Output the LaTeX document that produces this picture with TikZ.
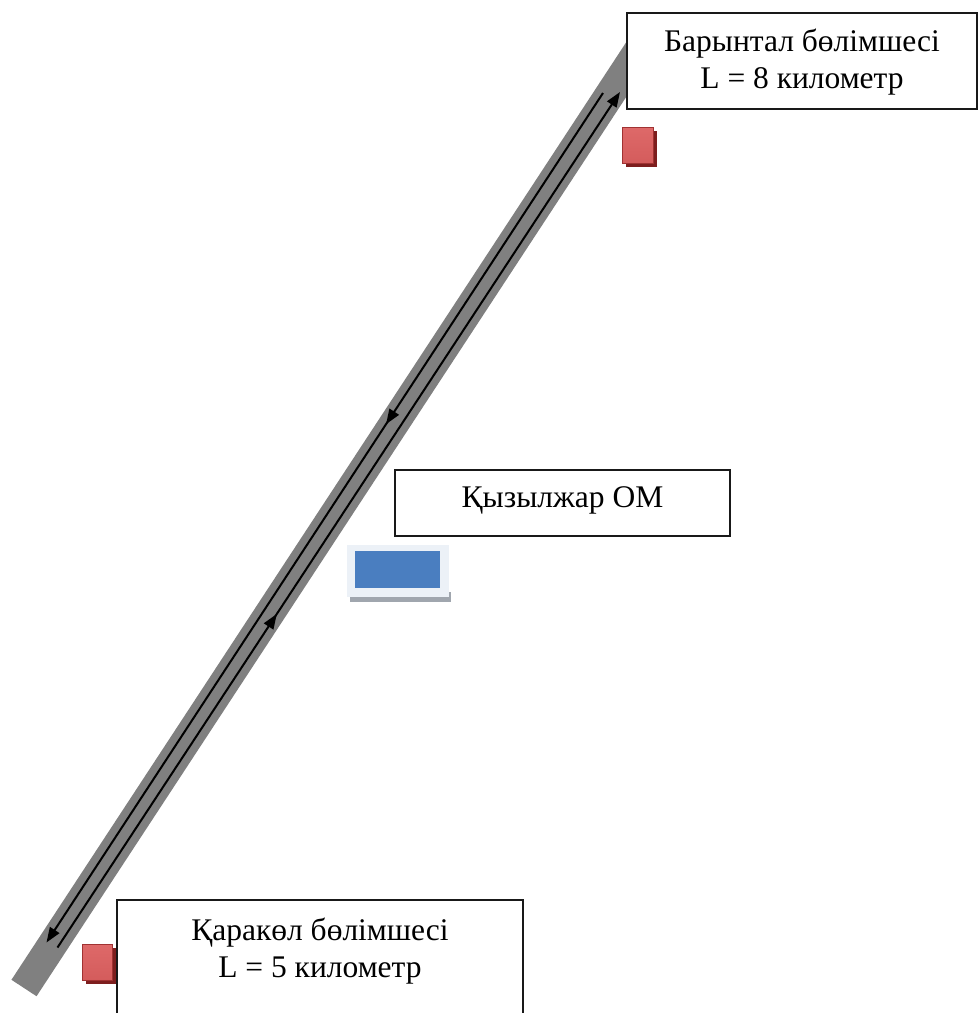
\documentclass[tikz,border=0pt]{standalone}
\usepackage{fontspec}
\setmainfont{Liberation Serif}
\usetikzlibrary{arrows.meta,decorations.markings}
\definecolor{roadgray}{RGB}{128,128,128}
\definecolor{sqtop}{RGB}{222,105,105}
\definecolor{sqmid}{RGB}{192,58,58}
\definecolor{sqbot}{RGB}{212,92,92}
\definecolor{sqedge}{RGB}{160,50,50}
\definecolor{sqshadow}{RGB}{125,30,30}
\definecolor{bluefill}{RGB}{74,126,192}
\definecolor{blueframe}{RGB}{236,241,247}
\definecolor{blueshadow}{RGB}{160,166,174}
\tikzset{
  labelbox/.style={draw=black!90, line width=1.4pt, fill=white, align=center, inner sep=0pt},
  labeltext/.style={align=center, inner sep=0pt, font=\fontsize{31.5}{37}\selectfont},
  roadband/.style={draw=roadgray, line width=30pt},
  roadline/.style={line width=2pt, -{Triangle[length=15pt,width=11pt]},
    postaction={decorate},
    decoration={markings, mark=at position 0.39 with {\arrow{Triangle[length=15pt,width=11pt]}}}},
  redsq/.style={shading=axis, top color=sqtop, middle color=sqmid, bottom color=sqbot, draw=sqedge, line width=0.7pt},
  redshadow/.style={fill=sqshadow},
}
\begin{document}
\begin{tikzpicture}[x=1pt,y=-1pt]
\useasboundingbox (0,0) rectangle (979,1013);
\fill[white] (0,0) rectangle (979,1013);

% road
\coordinate (roadS) at (24,988);
\coordinate (roadE) at (643,44);
\draw[roadband] (roadS) -- (roadE);

% lines along the road
\coordinate (L1) at (603,93);
\coordinate (L2) at (46.5,942.5);
\coordinate (R1) at (57.5,947.5);
\coordinate (R2) at (620,92);
\draw[roadline] (L1) -- (L2);
\draw[roadline] (R1) -- (R2);

% top box
\node[labelbox, minimum width=350pt, minimum height=96pt] (barbox) at (802,61) {};
\node[labeltext] (bartext) at (802,62) {Барынтал бөлімшесі\\L = 8 километр};

% middle box
\node[labelbox, minimum width=335pt, minimum height=66pt] (kyzbox) at (562.5,503) {};
\node[labeltext] (kyztext) at (562.5,500) {Қызылжар ОМ};

% bottom box
\draw[draw=black!90, line width=1.4pt, fill=white] (117,900) rectangle (523,1030);
\node[labeltext] (kartext) at (320,951) {Қаракөл бөлімшесі\\L = 5 километр};

% red squares
\fill[redshadow] (626,131) rectangle (657,167);
\draw[redsq] (622,127) rectangle (653,163);
\fill[redshadow] (86,948) rectangle (116,984);
\draw[redsq] (82,944) rectangle (112,980);

% blue rectangle
\fill[blueshadow] (350,592) rectangle (451,602);
\fill[blueframe] (347,545) rectangle (449,597);
\fill[bluefill] (355,551) rectangle (440,588);
\end{tikzpicture}
\end{document}
